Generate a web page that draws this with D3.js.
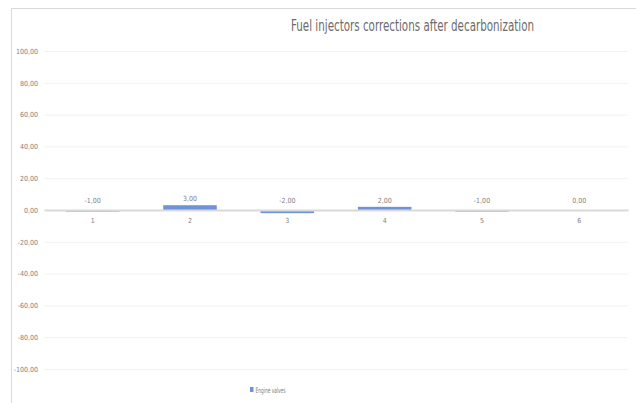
<!DOCTYPE html>
<html>
<head>
<meta charset="utf-8">
<script src="https://cdn.jsdelivr.net/npm/d3@7"></script>
<style>
  html, body { margin: 0; padding: 0; background: #fff; }
  svg { display: block; }
  text { font-family: "Liberation Sans Narrow", "DejaVu Sans Condensed", "Liberation Sans", Arial, sans-serif; }
</style>
</head>
<body>
<svg id="chart" width="636" height="403"></svg>
<script>
// Chart data
const categories = ["1", "2", "3", "4", "5", "6"];
const engineValves = [-1, 3, -2, 2, -1, 0];
const yTicks = [100, 80, 60, 40, 20, 0, -20, -40, -60, -80, -100];
const seriesName = "Engine valves";
const chartTitle = "Fuel injectors corrections after decarbonization";

const svg = d3.select("#chart");
const plot = { left: 44, right: 628, top: 51, bottom: 369 };

// Decimal comma, plain hyphen for negatives
const fmt = v => d3.format(".2f")(v).replace(".", ",").replace("\u2212", "-");

// Outer chart frame (extends past the right/bottom edge)
svg.append("rect")
  .attr("x", 11.5).attr("y", 8.5)
  .attr("width", 700).attr("height", 500)
  .attr("fill", "#fff")
  .attr("stroke", "#d9d9d9").attr("stroke-width", 1);

const x = d3.scaleBand()
  .domain(categories)
  .range([plot.left, plot.right])
  .paddingInner(0.45).paddingOuter(0.225);

const y = d3.scaleLinear()
  .domain([-100, 100])
  .range([plot.bottom, plot.top]);

// Horizontal gridlines and value axis labels
const yAxis = d3.axisLeft(y)
  .tickValues(yTicks)
  .tickSize(-(plot.right - plot.left))
  .tickPadding(6)
  .tickFormat(fmt);

const gy = svg.append("g")
  .attr("transform", `translate(${plot.left},0)`)
  .call(yAxis);
gy.select(".domain").remove();
gy.selectAll(".tick line").attr("stroke", "#f2f2f2").attr("stroke-width", 1);
gy.selectAll(".tick text")
  .attr("fill", "#808080")
  .attr("font-size", 7)
  .attr("x", -6);

// Bars
svg.append("g").selectAll("rect")
  .data(engineValves)
  .join("rect")
  .attr("x", (d, i) => x(categories[i]))
  .attr("width", x.bandwidth())
  .attr("y", d => y(Math.max(0, d)))
  .attr("height", d => Math.abs(y(d) - y(0)))
  .attr("fill", "#6f92d8");

// Category axis at zero
const xAxis = d3.axisBottom(x).tickSize(0).tickPadding(8);
const gx = svg.append("g")
  .attr("transform", `translate(0,${y(0)})`)
  .call(xAxis);
gx.select(".domain").attr("stroke", "#d9d9d9").attr("stroke-width", 2);
gx.selectAll(".tick text").attr("fill", "#808080").attr("font-size", 7);

// Value labels, placed just above the bar end (or the axis for negatives)
svg.append("g").selectAll("text")
  .data(engineValves)
  .join("text")
  .attr("x", (d, i) => x(categories[i]) + x.bandwidth() / 2)
  .attr("y", d => d > 0 ? y(d) - 4 : y(0) - 7)
  .attr("text-anchor", "middle")
  .attr("fill", "#808080")
  .attr("font-size", 7)
  .text(d => fmt(d));

// Title
svg.append("text")
  .attr("x", 291).attr("y", 31)
  .attr("textLength", 243)
  .attr("lengthAdjust", "spacingAndGlyphs")
  .attr("fill", "#6b6b6b")
  .attr("font-size", 15)
  .text(chartTitle);

// Legend
const lg = svg.append("g").attr("transform", "translate(250,387)");
lg.append("rect").attr("width", 3.5).attr("height", 5).attr("fill", "#6f92d8");
lg.append("text")
  .attr("x", 5.5).attr("y", 5.5)
  .attr("textLength", 30)
  .attr("lengthAdjust", "spacingAndGlyphs")
  .attr("fill", "#808080")
  .attr("font-size", 7.5)
  .text(seriesName);
</script>
</body>
</html>
